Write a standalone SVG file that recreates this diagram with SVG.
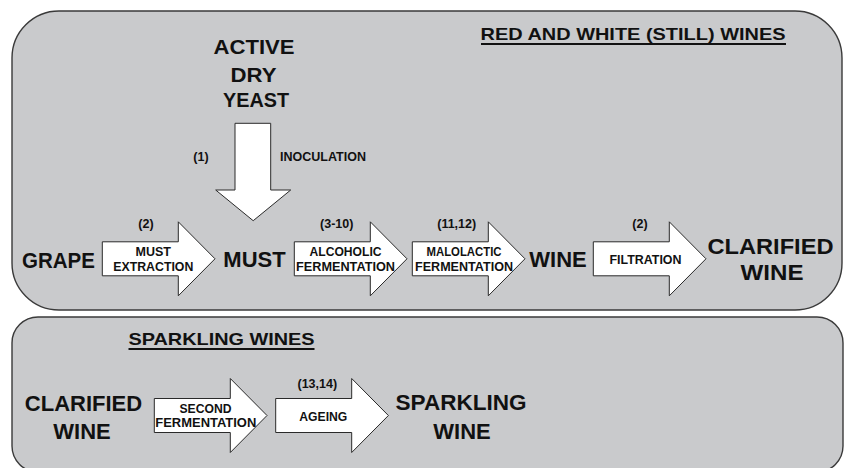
<svg xmlns="http://www.w3.org/2000/svg" width="844" height="468" viewBox="0 0 844 468">
<style>
.panel{fill:#c9cacc;stroke:#3a3a3a;stroke-width:1.4}
.arr{fill:#ffffff;stroke:#2a2a2a;stroke-width:1}
.big{font-family:"Liberation Sans",Arial,sans-serif;font-weight:bold;font-size:22px;fill:#111;text-anchor:middle}
.title{font-family:"Liberation Sans",Arial,sans-serif;font-weight:bold;font-size:17px;fill:#111;text-anchor:middle}
.sm{font-family:"Liberation Sans",Arial,sans-serif;font-weight:bold;font-size:12.5px;fill:#111;text-anchor:middle}
.ul{stroke:#111;stroke-width:2}
</style>
<defs>
<path id="harrow" d="M0,-17 H76 V-37 L112.7,0 L76,37 V17 H0 Z"/>
</defs>
<g id="panel-still">
<rect class="panel" x="12" y="11" width="830" height="299" rx="47" ry="47"/>
<text class="title" x="633" y="40" textLength="305" lengthAdjust="spacingAndGlyphs">RED AND WHITE (STILL) WINES</text>
<line class="ul" x1="481" y1="44" x2="786" y2="44"/>
</g>
<g id="panel-sparkling">
<rect class="panel" x="12" y="317" width="831" height="155" rx="26" ry="26"/>
<text class="title" x="221.5" y="345" textLength="186" lengthAdjust="spacingAndGlyphs">SPARKLING WINES</text>
<line class="ul" x1="128.5" y1="349" x2="314.5" y2="349"/>
</g>
<g id="node-yeast">
<text class="big" style="font-size:20px" x="254" y="54" textLength="81" lengthAdjust="spacingAndGlyphs">ACTIVE</text>
<text class="big" style="font-size:20px" x="253.5" y="82" textLength="46" lengthAdjust="spacingAndGlyphs">DRY</text>
<text class="big" style="font-size:20px" x="256" y="107" textLength="66" lengthAdjust="spacingAndGlyphs">YEAST</text>
</g>
<g id="node-grape"><text class="big" x="58.5" y="267.5" textLength="73" lengthAdjust="spacingAndGlyphs">GRAPE</text></g>
<g id="node-must"><text class="big" x="254.5" y="267">MUST</text></g>
<g id="node-wine"><text class="big" x="558" y="267">WINE</text></g>
<g id="node-clarified-top">
<text class="big" x="770.5" y="254" textLength="126" lengthAdjust="spacingAndGlyphs">CLARIFIED</text>
<text class="big" x="772" y="280" textLength="63" lengthAdjust="spacingAndGlyphs">WINE</text>
</g>
<g id="node-clarified-bottom">
<text class="big" x="83.5" y="411">CLARIFIED</text>
<text class="big" x="82" y="438.5">WINE</text>
</g>
<g id="node-sparkling">
<text class="big" x="461" y="410" textLength="131" lengthAdjust="spacingAndGlyphs">SPARKLING</text>
<text class="big" x="462" y="438.5">WINE</text>
</g>
<g id="connectors">
<g id="c-inoculation">
<path class="arr" d="M235,123.3 H270.7 V190 H290.7 L253.2,220.7 L215.7,190 H235 Z"/>
<text class="sm" x="201" y="161">(1)</text>
<text class="sm" x="323" y="161" textLength="86" lengthAdjust="spacingAndGlyphs">INOCULATION</text>
</g>
<g id="c-extraction">
<use href="#harrow" class="arr" transform="translate(102.3,258.8)"/>
<text class="sm" x="146" y="227.5">(2)</text>
<text class="sm" x="153.3" y="255.7">MUST</text>
<text class="sm" x="153.3" y="271" textLength="80" lengthAdjust="spacingAndGlyphs">EXTRACTION</text>
</g>
<g id="c-alcoholic">
<use href="#harrow" class="arr" transform="translate(294.3,258.8)"/>
<text class="sm" x="336.7" y="227.5">(3-10)</text>
<text class="sm" x="345.5" y="255.7" textLength="72" lengthAdjust="spacingAndGlyphs">ALCOHOLIC</text>
<text class="sm" x="345.5" y="271" textLength="99" lengthAdjust="spacingAndGlyphs">FERMENTATION</text>
</g>
<g id="c-malolactic">
<use href="#harrow" class="arr" transform="translate(412.3,258.8)"/>
<text class="sm" x="456.7" y="227.5">(11,12)</text>
<text class="sm" x="464" y="255.7" textLength="75" lengthAdjust="spacingAndGlyphs">MALOLACTIC</text>
<text class="sm" x="464" y="271" textLength="98" lengthAdjust="spacingAndGlyphs">FERMENTATION</text>
</g>
<g id="c-filtration">
<use href="#harrow" class="arr" transform="translate(593.3,258.8)"/>
<text class="sm" x="640" y="227.5">(2)</text>
<text class="sm" x="645.5" y="264" textLength="72" lengthAdjust="spacingAndGlyphs">FILTRATION</text>
</g>
<g id="c-second">
<use href="#harrow" class="arr" transform="translate(154.3,415.5)"/>
<text class="sm" x="205.5" y="413.3" textLength="52" lengthAdjust="spacingAndGlyphs">SECOND</text>
<text class="sm" x="205.8" y="427.3" textLength="101" lengthAdjust="spacingAndGlyphs">FERMENTATION</text>
</g>
<g id="c-ageing">
<use href="#harrow" class="arr" transform="translate(275.7,415.5)"/>
<text class="sm" x="317.3" y="388.3">(13,14)</text>
<text class="sm" x="323.3" y="420.7" textLength="48" lengthAdjust="spacingAndGlyphs">AGEING</text>
</g>
</g>
</svg>
